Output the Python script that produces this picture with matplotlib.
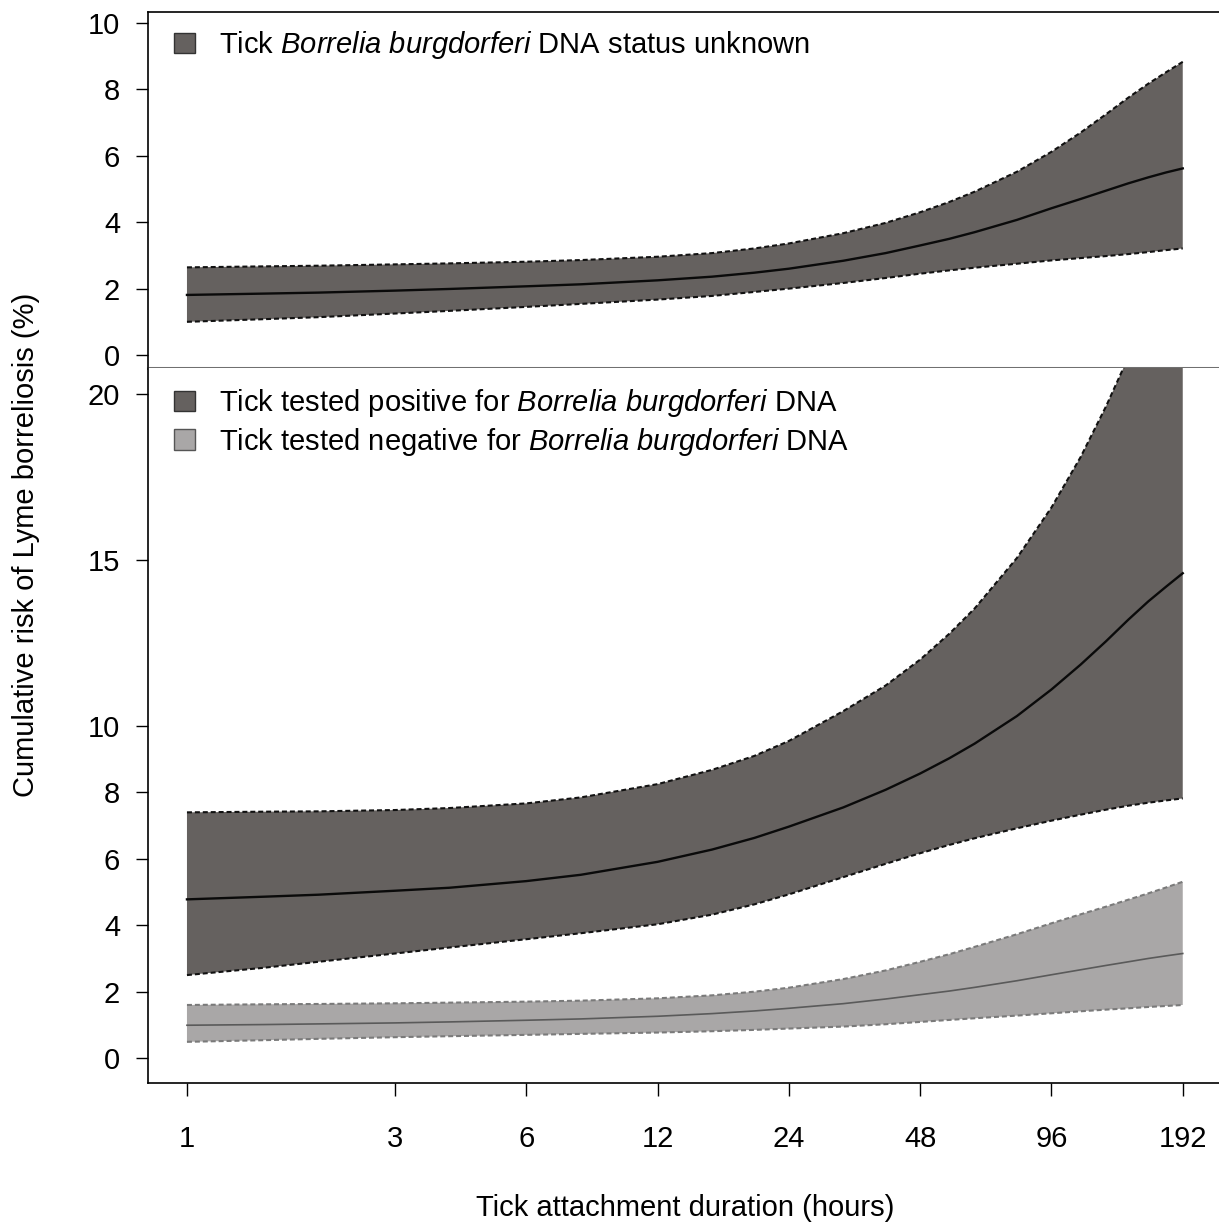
import matplotlib
matplotlib.use('Agg')
import matplotlib.pyplot as plt
from matplotlib.patches import Patch

plt.rcParams['font.family'] = ['Liberation Sans', 'DejaVu Sans']
plt.rcParams['mathtext.fontset'] = 'custom'
plt.rcParams['mathtext.rm'] = 'Liberation Sans'
plt.rcParams['mathtext.it'] = 'Liberation Sans:italic'

# ── 数据─────────────────────────────────────
hours = [1, 1.5, 2, 3, 4, 6, 8, 12, 16, 20, 24, 32, 40, 48, 56, 64, 80, 96, 112, 128, 144, 160, 176, 192]
hour_ticks = [1, 3, 6, 12, 24, 48, 96, 192]

# 上图：DNA 状态未知
unk_mid = [1.81, 1.85, 1.88, 1.94, 1.99, 2.07, 2.13, 2.25, 2.36, 2.48, 2.60, 2.84, 3.07, 3.30, 3.50, 3.70, 4.07, 4.42, 4.70, 4.95, 5.17, 5.35, 5.50, 5.62]
unk_up  = [2.64, 2.67, 2.69, 2.73, 2.76, 2.81, 2.86, 2.96, 3.07, 3.21, 3.36, 3.67, 3.98, 4.30, 4.61, 4.92, 5.52, 6.12, 6.70, 7.25, 7.75, 8.17, 8.52, 8.83]
unk_lo  = [1.00, 1.08, 1.14, 1.25, 1.33, 1.45, 1.54, 1.67, 1.78, 1.90, 2.00, 2.17, 2.32, 2.45, 2.55, 2.63, 2.75, 2.85, 2.92, 2.98, 3.04, 3.10, 3.16, 3.21]

# 下图：阳性
pos_mid = [4.78, 4.86, 4.92, 5.04, 5.13, 5.33, 5.52, 5.91, 6.28, 6.63, 6.97, 7.55, 8.08, 8.57, 9.03, 9.47, 10.3, 11.1, 11.85, 12.55, 13.2, 13.75, 14.2, 14.6]
pos_up  = [7.40, 7.42, 7.43, 7.47, 7.53, 7.67, 7.85, 8.25, 8.68, 9.10, 9.55, 10.45, 11.22, 12.0, 12.78, 13.54, 15.06, 16.58, 18.1, 19.62, 21.1, 22.6, 24.1, 25.6]
pos_lo  = [2.50, 2.72, 2.90, 3.15, 3.33, 3.58, 3.76, 4.03, 4.32, 4.63, 4.93, 5.45, 5.85, 6.17, 6.42, 6.62, 6.92, 7.15, 7.33, 7.48, 7.60, 7.69, 7.76, 7.82]

# 下图：阴性
neg_mid = [0.99, 1.01, 1.03, 1.06, 1.09, 1.14, 1.18, 1.26, 1.34, 1.42, 1.50, 1.64, 1.78, 1.91, 2.02, 2.13, 2.33, 2.51, 2.66, 2.79, 2.90, 3.00, 3.08, 3.15]
neg_up  = [1.60, 1.62, 1.63, 1.65, 1.67, 1.70, 1.73, 1.80, 1.89, 2.00, 2.12, 2.38, 2.64, 2.90, 3.13, 3.35, 3.73, 4.06, 4.33, 4.56, 4.77, 4.96, 5.14, 5.31]
neg_lo  = [0.49, 0.54, 0.58, 0.63, 0.66, 0.70, 0.73, 0.77, 0.81, 0.85, 0.89, 0.95, 1.02, 1.09, 1.15, 1.20, 1.28, 1.35, 1.41, 1.46, 1.50, 1.54, 1.57, 1.60]

DARK = '#65615f'
LIGHT = '#a9a7a7'
FS = 21
DASH = (0, (2.4, 1.4))

fig = plt.figure(figsize=(12.19, 12.25), dpi=100)
ax_top = fig.add_axes([0.1214, 0.6996, 0.8786, 0.9902 - 0.6996])
ax_bot = fig.add_axes([0.1214, 0.1159, 0.8786, 0.6996 - 0.1159])


def band(ax, mid, up, lo, fc, lc, mc, mlw):
    ax.fill_between(hours, lo, up, facecolor=fc, edgecolor='none', zorder=1)
    ax.plot(hours, up, color=lc, lw=1.5, linestyle=DASH, zorder=2)
    ax.plot(hours, lo, color=lc, lw=1.5, linestyle=DASH, zorder=2)
    ax.plot(hours, mid, color=mc, lw=mlw, zorder=3)


band(ax_top, unk_mid, unk_up, unk_lo, DARK, '#111111', '#0a0a0a', 1.7)
band(ax_bot, pos_mid, pos_up, pos_lo, DARK, '#111111', '#0a0a0a', 1.7)
band(ax_bot, neg_mid, neg_up, neg_lo, LIGHT, '#7a7a7a', '#5a5a5a', 1.2)

for ax in (ax_top, ax_bot):
    ax.set_xscale('log')
    ax.set_xlim(0.814, 232.5)
    ax.spines['right'].set_visible(False)
    ax.tick_params(axis='y', direction='out', length=9, width=1.0,
                   labelsize=FS, pad=11)
    for s in ax.spines.values():
        s.set_linewidth(1.2)

ax_top.set_ylim(-0.39, 10.33)
ax_top.set_yticks([0, 2, 4, 6, 8, 10])
ax_top.set_xticks([])
ax_top.minorticks_off()
ax_top.tick_params(axis='x', which='both', bottom=False, labelbottom=False)
ax_top.spines['bottom'].set_color('#707070')
ax_top.spines['bottom'].set_linewidth(2.2)

ax_bot.set_ylim(-0.75, 20.78)
ax_bot.set_yticks([0, 2, 4, 6, 8, 10, 15, 20])
ax_bot.spines['top'].set_visible(False)
ax_bot.set_xticks(hour_ticks)
ax_bot.set_xticklabels([str(h) for h in hour_ticks])
ax_bot.minorticks_off()
ax_bot.tick_params(axis='x', direction='out', length=9, width=1.0,
                   labelsize=FS, pad=21)

sp = r'$\mathit{Borrelia\ burgdorferi}$'
h_unk = [Patch(facecolor=DARK, edgecolor='#333333', lw=1.0)]
ax_top.legend(h_unk, [f'Tick {sp} DNA status unknown'],
              loc='upper left', bbox_to_anchor=(0.0, 1.025), frameon=False,
              fontsize=FS, handlelength=0.7, handleheight=0.7, handletextpad=0.85)

h_bot = [Patch(facecolor=DARK, edgecolor='#333333', lw=1.0),
         Patch(facecolor=LIGHT, edgecolor='#555555', lw=1.0)]
ax_bot.legend(h_bot, [f'Tick tested positive for {sp} DNA',
                      f'Tick tested negative for {sp} DNA'],
              loc='upper left', bbox_to_anchor=(0.0, 1.01), frameon=False,
              fontsize=FS, handlelength=0.7, handleheight=0.7, handletextpad=0.85,
              labelspacing=0.22)

fig.text(0.021, 0.555, 'Cumulative risk of Lyme borreliosis (%)', rotation=90,
         ha='center', va='center', fontsize=FS)
fig.text(0.562, 0.014, 'Tick attachment duration (hours)', ha='center', va='center',
         fontsize=FS)

fig.savefig('out.png', dpi=100)
